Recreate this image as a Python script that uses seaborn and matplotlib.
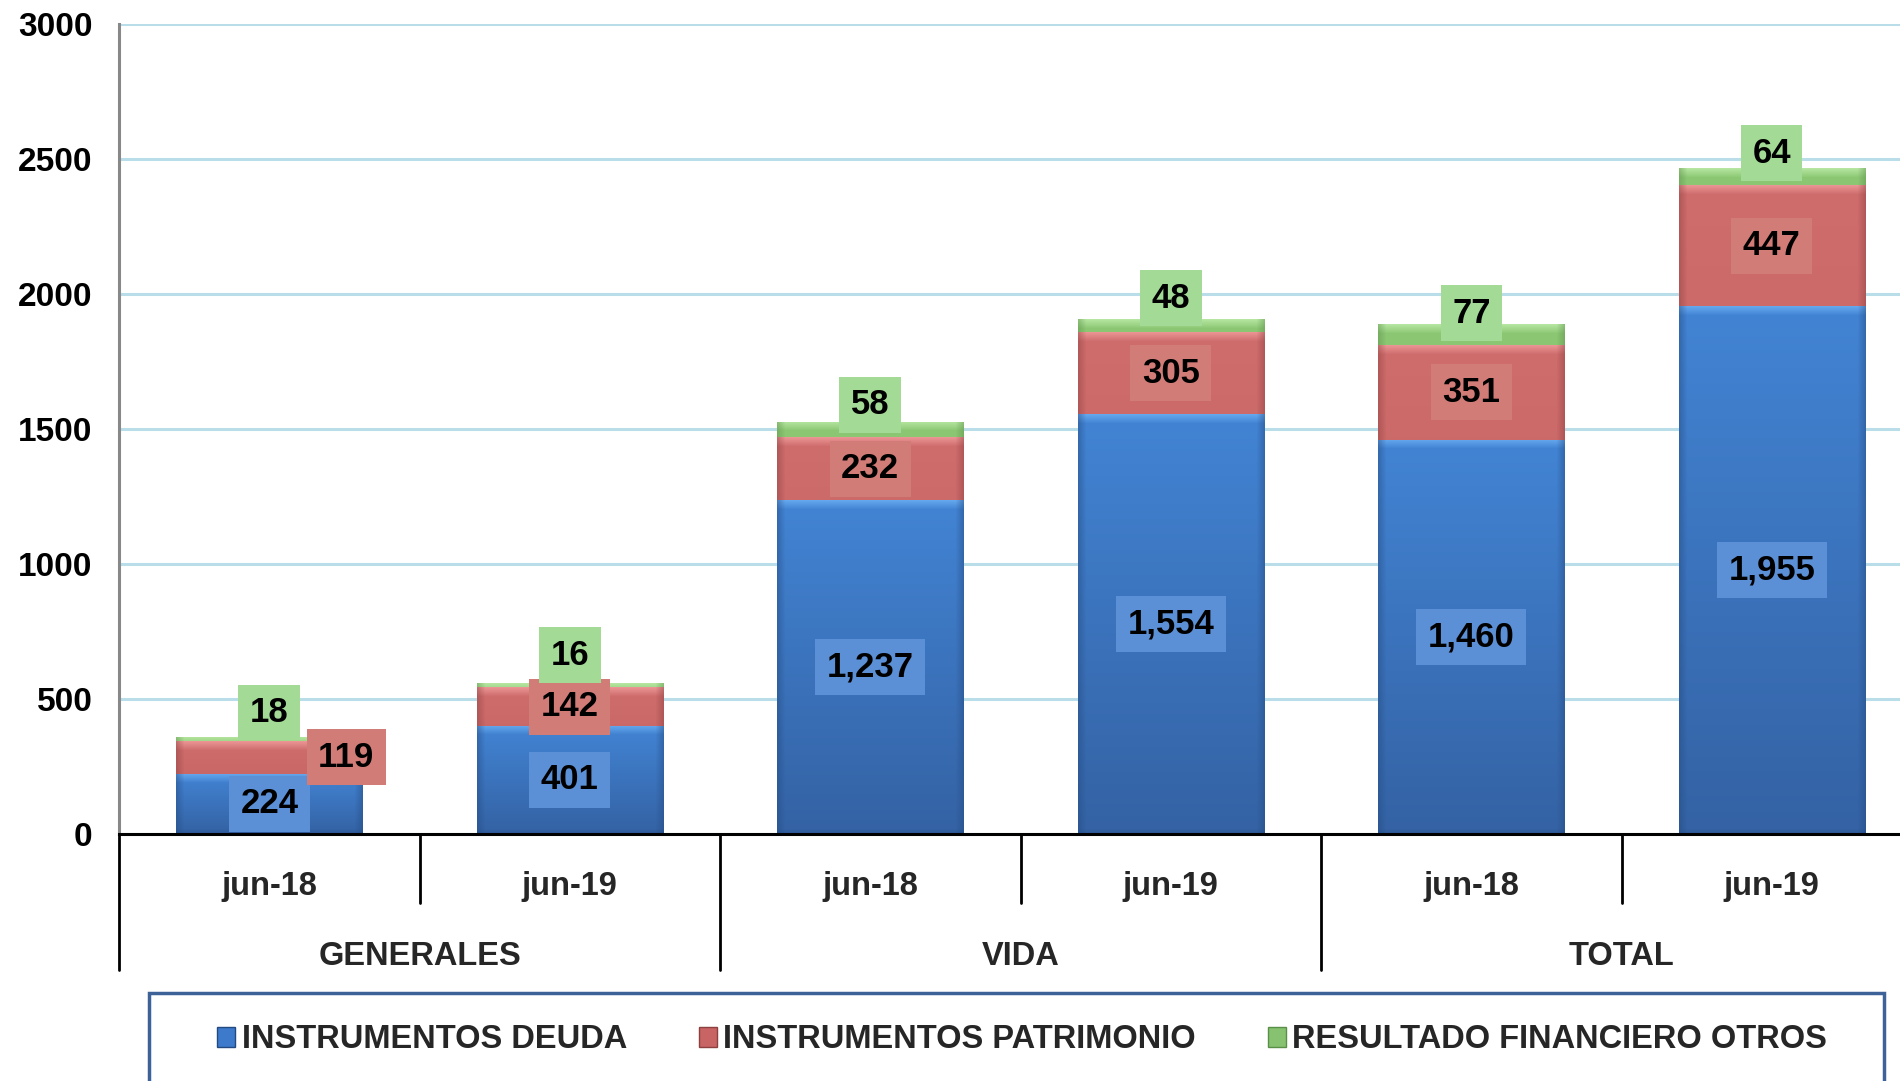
import numpy as np
import pandas as pd
import matplotlib
matplotlib.use("Agg")
import matplotlib.pyplot as plt
import seaborn as sns
from matplotlib.patches import Patch, Rectangle
from matplotlib.colors import to_rgb
import matplotlib.transforms as mtransforms

# ---------------- data ----------------
groups = ["GENERALES", "VIDA", "TOTAL"]
periods = ["jun-18", "jun-19"]
deuda = [224, 401, 1237, 1554, 1460, 1955]
patrimonio = [119, 142, 232, 305, 351, 447]
otros = [18, 16, 58, 48, 77, 64]
series_names = ["INSTRUMENTOS DEUDA", "INSTRUMENTOS PATRIMONIO", "RESULTADO FINANCIERO OTROS"]
yticks = [0, 500, 1000, 1500, 2000, 2500, 3000]

# label placement tweaks (pixels)
green_label_offsets_px = [24, 28, 17, 21, 11, 15]
red_label_dx_px = [77, 0, 0, 0, 0, 0]

# ---------------- style ----------------
sns.set_style("white")
plt.rcParams['font.family'] = ['Liberation Sans', 'DejaVu Sans']
plt.rcParams['font.weight'] = 'bold'

blue = dict(flat="#3d7acb", top="#4284d4", bot="#3462a4", hi="#72b4f6", edge="#234a80", lbl="#5b8fd6")
red = dict(flat="#c96464", top="#cf6c6c", bot="#bf5c5c", hi="#f4a2a2", edge="#8e4040", lbl="#d27c78")
green = dict(flat="#86c270", top="#8cc874", bot="#74ae60", hi="#c4f0b0", edge="#5a8f48", lbl="#a3da95")

keys = [f"{g}|{p}" for g in groups for p in periods]
df = pd.DataFrame({"key": keys, "deuda": deuda, "patrimonio": patrimonio, "otros": otros})
df["cum1"] = df["deuda"]
df["cum2"] = df["deuda"] + df["patrimonio"]
df["cum3"] = df["cum2"] + df["otros"]

W, H = 1900, 1081
cat_px = 300.5
fig = plt.figure(figsize=(W / 100, H / 100), dpi=100)
ax = fig.add_axes([119 / W, 1 - 834 / H, 6 * cat_px / W, 810 / H])
ax.set_xlim(-0.5, 5.5)
ax.set_ylim(0, 3000)


def shade_bar(ax, patch, st, z):
    x0, y0 = patch.get_x(), patch.get_y()
    w, h = patch.get_width(), patch.get_height()
    p0 = ax.transData.transform((x0, y0))
    p1 = ax.transData.transform((x0 + w, y0 + h))
    nw = max(int(round(abs(p1[0] - p0[0]))), 2)
    nh = max(int(round(abs(p1[1] - p0[1]))), 2)
    t = np.linspace(0, 1, nh)[:, None, None]
    top, bot = np.array(to_rgb(st["top"])), np.array(to_rgb(st["bot"]))
    hi, ed = np.array(to_rgb(st["hi"])), np.array(to_rgb(st["edge"]))
    img = top * (1 - t) + bot * t
    img = np.repeat(img, nw, axis=1)
    hl = max(1, min(9, nh // 3))
    for r in range(hl):
        a = 0.75 * (1 - r / hl)
        img[r, :] = img[r, :] * (1 - a) + hi * a
    sw = min(8, nw // 6)
    for c in range(sw):
        a = 0.45 * (1 - c / sw)
        img[:, c] = img[:, c] * (1 - a) + ed * a
        img[:, nw - 1 - c] = img[:, nw - 1 - c] * (1 - a) + ed * a
    bw = max(1, min(5, nh // 4))
    for r in range(bw):
        a = 0.35 * (1 - r / bw)
        img[nh - 1 - r, :] = img[nh - 1 - r, :] * (1 - a) + ed * a
    im = ax.imshow(np.clip(img, 0, 1), extent=(x0, x0 + w, y0, y0 + h), aspect="auto",
                   origin="upper", interpolation="bilinear", zorder=z + 0.1)
    im.set_clip_path(patch)


for z, (col, st) in enumerate([("cum3", green), ("cum2", red), ("cum1", blue)], start=1):
    n_before = len(ax.patches)
    sns.barplot(data=df, x="key", y=col, order=keys, color=st["flat"], width=0.62, ax=ax,
                saturation=1, edgecolor="none", linewidth=0, errorbar=None)
    new = ax.patches[n_before:]
    for p in new:
        p.set_zorder(z)
    ax.set_xlim(-0.5, 5.5)
    ax.set_ylim(0, 3000)
    for p in new:
        shade_bar(ax, p, st, z)

ax.set_xlim(-0.5, 5.5)
ax.set_ylim(0, 3000)
ax.set_yticks(yticks)
ax.set_yticklabels([str(v) for v in yticks])
ax.set_axisbelow(True)
ax.yaxis.grid(True, color="#b9dde9", linewidth=2.2)
ax.xaxis.grid(False)
ax.set_xlabel("")
ax.set_ylabel("")

for s in ["top", "right"]:
    ax.spines[s].set_visible(False)
ax.spines["left"].set_color("#888888")
ax.spines["left"].set_linewidth(2.2)
ax.spines["bottom"].set_color("black")
ax.spines["bottom"].set_linewidth(2.2)
ax.spines["bottom"].set_zorder(5)

ax.tick_params(axis="y", direction="out", length=10, width=2.2, color="#888888",
               labelsize=24, labelcolor="black", pad=9)
ax.set_xticks(range(len(keys)))
ax.set_xticklabels([k.split("|")[1] for k in keys], fontsize=23.5, fontweight="bold")
ax.tick_params(axis="x", length=0, pad=27)

trans = mtransforms.blended_transform_factory(ax.transData, ax.transAxes)
for i, g in enumerate(groups):
    ax.text(2 * i + 0.5, -0.151, g, transform=trans, ha="center", va="center",
            fontsize=23.5, fontweight="bold")
for x in [-0.5, 1.5, 3.5]:
    ax.plot([x, x], [0, -0.168], transform=trans, color="black", lw=2, clip_on=False)
for x in [0.5, 2.5, 4.5]:
    ax.plot([x, x], [0, -0.085], transform=trans, color="black", lw=2, clip_on=False)

lbl_fs = 25
for i in range(len(keys)):
    d, p, o = deuda[i], patrimonio[i], otros[i]
    ax.annotate(f"{d:,}", (i, d / 2), ha="center", va="center", fontsize=lbl_fs,
                fontweight="bold", color="black",
                bbox=dict(boxstyle="square,pad=0.33", fc=blue["lbl"], ec="none"), zorder=6)
    ax.annotate(f"{p:,}", (i, d + p / 2), xytext=(red_label_dx_px[i] * 0.72, 0),
                textcoords="offset points", ha="center", va="center", fontsize=lbl_fs,
                fontweight="bold", color="black",
                bbox=dict(boxstyle="square,pad=0.33", fc=red["lbl"], ec="none"), zorder=6)
    ax.annotate(f"{o:,}", (i, d + p + o), xytext=(0, green_label_offsets_px[i] * 0.72),
                textcoords="offset points", ha="center", va="center", fontsize=lbl_fs,
                fontweight="bold", color="black",
                bbox=dict(boxstyle="square,pad=0.33", fc=green["lbl"], ec="none"), zorder=6)

fig.patches.append(Rectangle((149 / W, -0.02), (1884 - 149) / W, (1081 - 993) / H + 0.02,
                             transform=fig.transFigure, fill=False, ec="#3c6298", lw=2.5))
handles = [Patch(facecolor=blue["flat"], edgecolor=blue["edge"]),
           Patch(facecolor=red["flat"], edgecolor=red["edge"]),
           Patch(facecolor=green["flat"], edgecolor=green["edge"])]
fig.legend(handles, series_names, loc="center", bbox_to_anchor=(0.538, 1 - 1040 / H),
           ncol=3, frameon=False, handlelength=0.55, handleheight=0.55,
           handletextpad=0.2, columnspacing=2.2, prop={"weight": "bold", "size": 23.5})

fig.savefig("out.png", dpi=100)
